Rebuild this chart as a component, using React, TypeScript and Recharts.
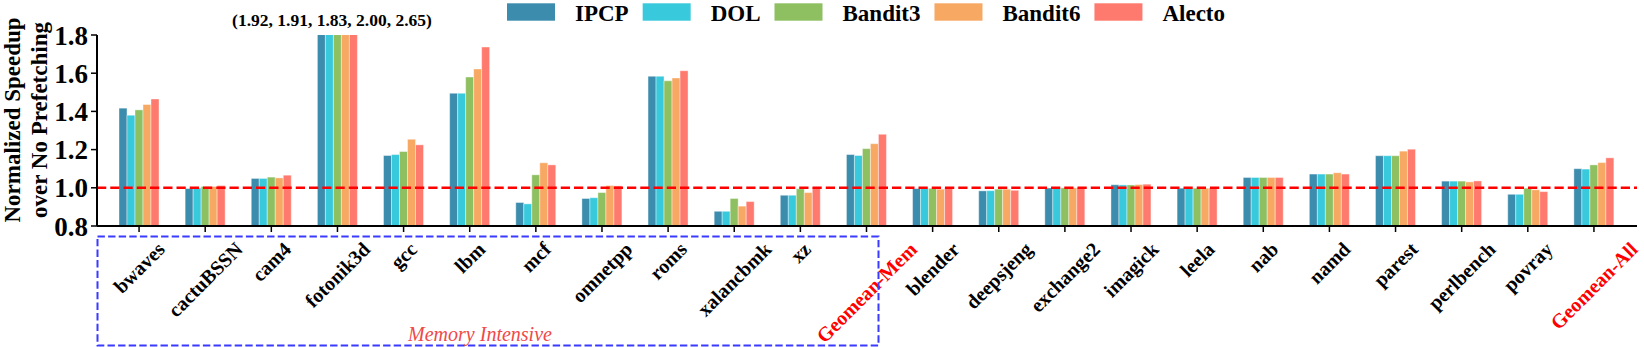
import React from "react";
import { BarChart, Bar, XAxis, YAxis, ReferenceLine } from "recharts";

const categories = [
  "bwaves", "cactuBSSN", "cam4", "fotonik3d", "gcc", "lbm", "mcf", "omnetpp", "roms",
  "xalancbmk", "xz", "Geomean-Mem", "blender", "deepsjeng", "exchange2", "imagick",
  "leela", "nab", "namd", "parest", "perlbench", "povray", "Geomean-All"
];
const ipcp = [1.417, 0.996, 1.049, 1.92, 1.169, 1.495, 0.923, 0.944, 1.584, 0.877, 0.961, 1.174, 0.996, 0.984, 0.999, 1.016, 0.998, 1.054, 1.072, 1.168, 1.035, 0.966, 1.1];
const dol = [1.38, 0.999, 1.049, 1.91, 1.174, 1.495, 0.916, 0.948, 1.584, 0.877, 0.961, 1.169, 0.996, 0.985, 0.999, 1.015, 0.998, 1.054, 1.072, 1.168, 1.035, 0.966, 1.098];
const bandit3 = [1.408, 1.007, 1.056, 1.83, 1.19, 1.58, 1.068, 0.975, 1.56, 0.944, 0.995, 1.205, 0.997, 0.993, 1.0, 1.015, 0.998, 1.054, 1.072, 1.168, 1.035, 0.998, 1.12];
const bandit6 = [1.436, 1.007, 1.052, 2.0, 1.254, 1.622, 1.131, 1.012, 1.575, 0.904, 0.975, 1.231, 0.993, 0.993, 1.0, 1.017, 0.998, 1.054, 1.079, 1.192, 1.031, 0.99, 1.132];
const alecto = [1.465, 1.012, 1.066, 2.65, 1.225, 1.737, 1.12, 1.01, 1.613, 0.928, 1.003, 1.28, 1.0, 0.987, 1.0, 1.019, 0.999, 1.054, 1.072, 1.202, 1.036, 0.98, 1.157];
const yTicks = [0.8, 1.0, 1.2, 1.4, 1.6, 1.8];
const overflowNote = "(1.92, 1.91, 1.83, 2.00, 2.65)";

const series = [
  { key: "IPCP", values: ipcp, color: "#3C8CAD" },
  { key: "DOL", values: dol, color: "#38C9DD" },
  { key: "Bandit3", values: bandit3, color: "#8EC062" },
  { key: "Bandit6", values: bandit6, color: "#F7A964" },
  { key: "Alecto", values: alecto, color: "#FF7A6E" },
];

const data = categories.map((name, i) => {
  const row: any = { name };
  series.forEach((s) => (row[s.key] = s.values[i]));
  return row;
});

const FONT = "'Liberation Serif', 'Times New Roman', serif";

let ctx: CanvasRenderingContext2D | null = null;
function textWidth(s: string, font: string) {
  if (!ctx) ctx = document.createElement("canvas").getContext("2d");
  if (!ctx) return s.length * 10;
  ctx.font = font;
  return ctx.measureText(s).width;
}

// rotated 45deg labels, bbox centred on the tick like matplotlib ha=center
const XTick = (props: any) => {
  const { x, y, payload } = props;
  const label = String(payload.value);
  const w = textWidth(label, `bold 20px ${FONT}`);
  const off = ((w + 16) * Math.SQRT1_2) / 2;
  const cy = y + off;
  return (
    <text
      x={x}
      y={cy}
      transform={`rotate(-45 ${x} ${cy})`}
      textAnchor="middle"
      dominantBaseline="central"
      fontFamily={FONT}
      fontWeight="bold"
      fontSize={20}
      fill={label.startsWith("Geomean") ? "#FF0000" : "#000"}
    >
      {label}
    </text>
  );
};

export default function App() {
  return (
    <div style={{ position: "absolute", left: 0, top: 0, width: 1644, height: 347, background: "#fff" }}>
      <BarChart
        width={1644}
        height={347}
        data={data}
        margin={{ top: 35, right: 7, bottom: 0, left: 0 }}
        barCategoryGap={13}
        barGap={0}
      >
        <XAxis
          dataKey="name"
          interval={0}
          height={121}
          tickSize={6}
          tickMargin={8}
          padding={{ left: 9, right: 10 }}
          axisLine={{ stroke: "#000", strokeWidth: 2 }}
          tickLine={{ stroke: "#000", strokeWidth: 1.5 }}
          tick={<XTick />}
        />
        <XAxis xAxisId="top" dataKey="name" orientation="top" height={0} tick={false} tickLine={false}
          axisLine={{ stroke: "#000", strokeWidth: 2 }} />
        <YAxis
          width={97}
          domain={[0.8, 1.8]}
          ticks={yTicks}
          allowDataOverflow
          tickFormatter={(v: number) => v.toFixed(1)}
          tickSize={6}
          tickMargin={3}
          axisLine={{ stroke: "#000", strokeWidth: 2 }}
          tickLine={{ stroke: "#000", strokeWidth: 1.5 }}
          tick={{ fontFamily: FONT, fontWeight: "bold", fontSize: 27, fill: "#000" }}
        />
        <YAxis yAxisId="right" orientation="right" width={0} domain={[0.8, 1.8]} tick={false} tickLine={false}
          axisLine={{ stroke: "#000", strokeWidth: 2 }} />
        {series.map((s) => (
          <Bar key={s.key} dataKey={s.key} fill={s.color} stroke="#ffffff" strokeOpacity={0.5} strokeWidth={0.8}
            isAnimationActive={false} />
        ))}
        <ReferenceLine y={1} stroke="#FF0000" strokeWidth={2.5} strokeDasharray="9.25 4" />
      </BarChart>
      <svg width={1644} height={347} style={{ position: "absolute", left: 0, top: 0, pointerEvents: "none" }}>
        <text x={332} y={26} textAnchor="middle" fontFamily={FONT} fontWeight="bold" fontSize={17.5}>
          {overflowNote}
        </text>
        <g fontFamily={FONT} fontWeight="bold" fontSize={23}>
          <text transform="translate(12 120) rotate(-90)" textAnchor="middle" dominantBaseline="central">
            Normalized Speedup
          </text>
          <text transform="translate(39 120) rotate(-90)" textAnchor="middle" dominantBaseline="central">
            over No Prefetching
          </text>
        </g>
        <rect x={97.5} y={236.5} width={781} height={109} fill="none" stroke="#3B3BFF" strokeWidth={2}
          strokeDasharray="7.4 3.2" />
        <text x={480} y={341} textAnchor="middle" fontFamily={FONT} fontStyle="italic" fontSize={20} fill="#F04848">
          Memory Intensive
        </text>
        {(() => {
          let cx = 507;
          return series.map((s) => {
            const w = textWidth(s.key, `bold 23px ${FONT}`);
            const g = (
              <g key={s.key}>
                <rect x={cx} y={3.3} width={48} height={17.4} fill={s.color} />
                <text x={cx + 68} y={21} fontFamily={FONT} fontWeight="bold" fontSize={23}>
                  {s.key}
                </text>
              </g>
            );
            cx += 68 + w + 14;
            return g;
          });
        })()}
      </svg>
    </div>
  );
}
